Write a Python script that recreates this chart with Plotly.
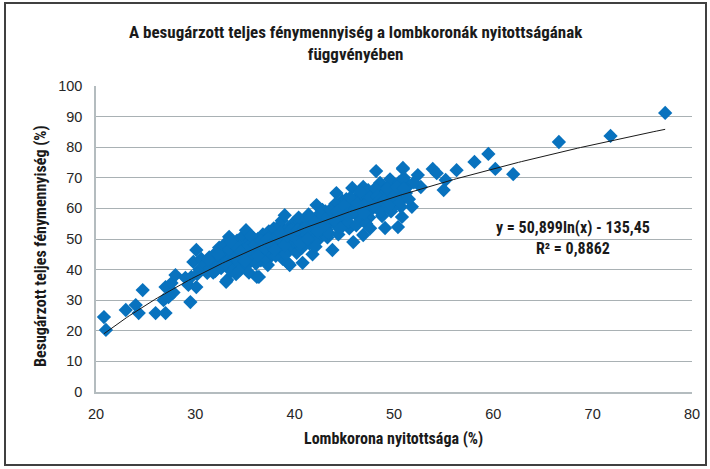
import numpy as np
import plotly.graph_objects as go

# ---- data ----
nyitottsag = [
    20.8, 21.0, 23.0, 24.0, 24.3, 24.7,
    26.0, 27.0, 26.8, 27.3, 27.0, 27.6, 28.0, 27.8,
    29.5, 29.0, 29.6, 29.3,
    30.1, 30.1, 29.8, 30.4, 30.6, 30.2,
    31.2, 31.4, 31.0, 31.7, 31.5, 31.9,
    32.2, 32.5, 32.0, 32.7, 32.4, 32.8, 32.9,
    33.2, 33.1, 33.4, 33.0, 33.5, 33.3, 33.7, 33.8, 33.6, 33.9,
    34.0, 34.2, 34.3, 34.5, 34.6, 34.4, 34.8, 34.9, 34.1, 34.7,
    35.1, 35.0, 35.3, 35.5, 35.2, 35.6, 35.8, 35.4, 35.9, 35.7,
    36.2, 36.4, 36.0, 36.3, 36.5, 36.6, 36.8, 36.9, 36.1, 36.7,
    37.0, 37.2, 37.4, 37.5, 37.6, 37.8, 37.3, 37.9, 37.1, 37.7,
    38.0, 38.2, 38.4, 38.5, 38.6, 38.8, 38.3, 38.9, 38.1, 38.7,
    39.0, 39.3, 39.5, 39.2, 39.4, 39.6, 39.8, 39.1, 39.7, 39.9,
    40.0, 40.3, 40.8, 40.5, 40.2, 40.6, 40.9, 40.4, 40.7, 40.1,
    41.0, 41.3, 41.5, 41.2, 41.7, 41.8, 41.4, 41.9, 41.6,
    42.2, 42.0, 42.3, 42.5, 42.7, 42.4, 42.8, 42.1, 42.9, 42.6,
    43.0, 43.3, 43.5, 43.2, 43.8, 43.6, 43.9, 43.4, 43.7, 43.1,
    44.2, 44.0, 44.3, 44.5, 44.7, 44.4, 44.8, 44.6, 44.9, 44.1,
    45.0, 45.3, 45.5, 45.8, 45.9, 45.2, 45.6, 45.4, 45.7, 45.1,
    46.0, 46.3, 46.5, 46.9, 46.9, 46.2, 46.6, 46.8, 46.4, 46.7,
    47.0, 47.3, 47.5, 47.7, 47.2, 47.8, 47.4, 47.9, 47.6,
    48.2, 48.0, 48.6, 48.3, 48.5, 48.8, 48.4, 48.9, 48.7, 48.1,
    49.1, 49.0, 49.3, 49.5, 49.7, 49.2, 49.8, 49.6, 49.4,
    50.4, 50.8, 50.9, 50.9, 50.0, 50.2, 50.5, 50.6, 50.3, 50.7,
    51.8, 51.2, 51.5, 52.4, 52.7, 51.0, 52.0,
    53.9, 54.3, 55.2, 55.0, 56.3, 58.1, 59.5, 60.2, 62.0, 66.6, 71.8, 77.3,
    31.3, 31.8, 32.3, 32.6, 33.0, 33.4, 33.6, 34.0, 34.3, 34.6,
    35.0, 35.4, 35.6, 36.0, 36.3, 36.6, 37.0, 37.3, 37.6, 38.0,
    38.3, 38.6, 39.0, 39.3, 39.6, 40.0, 40.3, 40.6, 41.0, 41.3,
    41.6, 42.0, 42.3, 42.6, 43.0, 43.3, 43.6, 44.0, 44.3, 44.6,
    45.0, 45.3, 45.6, 46.0, 46.3, 46.6, 47.0, 47.3, 47.6, 48.0,
    48.3, 48.6, 49.0, 49.3, 49.6, 50.0, 50.3, 50.6, 51.0, 51.5,
]
fenymennyiseg = [
    24.5, 20.3, 26.8, 28.4, 25.8, 33.3,
    25.8, 25.8, 30.0, 31.0, 34.3, 35.6, 38.2, 32.5,
    29.4, 37.3, 37.6, 35.0,
    34.3, 46.4, 42.5, 40.0, 43.5, 38.5,
    38.9, 44.0, 41.8, 42.5, 40.5, 45.0,
    41.0, 43.8, 39.5, 46.0, 47.2, 42.0, 44.5,
    36.6, 36.0, 50.7, 48.5, 45.5, 43.0, 41.0, 47.8, 39.5, 44.0,
    46.5, 49.5, 42.5, 40.0, 48.0, 44.8, 51.0, 46.0, 38.5, 43.5,
    52.9, 47.0, 44.5, 49.5, 41.5, 46.8, 50.5, 39.0, 43.8, 48.5,
    37.6, 37.6, 45.5, 50.0, 47.5, 43.0, 51.5, 48.8, 42.0, 45.8,
    49.5, 46.0, 52.5, 44.0, 50.5, 47.8, 41.5, 53.5, 43.8, 45.0,
    48.5, 51.0, 45.5, 54.5, 49.8, 43.5, 47.0, 52.5, 44.5, 56.0,
    57.8, 42.2, 41.5, 50.0, 53.5, 47.5, 55.0, 45.0, 51.5, 49.0,
    52.0, 48.0, 42.2, 55.5, 45.5, 50.5, 53.8, 57.0, 47.0, 49.5,
    51.0, 54.5, 48.5, 56.5, 52.5, 45.0, 58.0, 50.0, 55.0,
    61.1, 53.5, 49.5, 57.0, 51.5, 55.0, 59.5, 47.5, 54.0, 52.8,
    56.0, 50.5, 58.5, 53.0, 46.4, 55.5, 60.5, 52.0, 57.5, 59.0,
    65.0, 58.0, 54.0, 60.0, 56.5, 51.5, 62.5, 58.8, 55.0, 61.5,
    57.5, 60.5, 53.5, 66.7, 49.0, 63.0, 58.0, 55.5, 61.5, 59.5,
    62.0, 57.5, 64.5, 67.0, 51.3, 54.5, 60.0, 56.5, 62.8, 58.8,
    61.0, 64.0, 57.0, 59.5, 55.0, 62.5, 66.0, 60.5, 53.5,
    72.2, 63.5, 68.3, 60.0, 65.5, 57.5, 62.0, 61.5, 59.0, 66.5,
    53.6, 64.0, 62.0, 67.5, 59.0, 65.5, 63.0, 69.5, 60.5,
    53.9, 57.2, 72.9, 73.2, 66.0, 61.5, 68.5, 63.5, 64.8, 60.5,
    60.5, 65.0, 67.5, 70.9, 67.0, 70.0, 68.5,
    72.9, 71.5, 69.3, 66.0, 72.5, 75.2, 77.8, 72.9, 71.2, 81.7, 83.7, 91.2,
    43.2, 39.0, 45.0, 40.5, 42.0, 46.5, 49.0, 44.0, 47.0, 45.8,
    42.8, 47.8, 51.0, 48.0, 44.5, 49.5, 47.0, 50.0, 48.0, 46.5,
    50.5, 52.0, 48.0, 51.0, 53.0, 50.5, 53.0, 48.5, 53.5, 50.0,
    57.0, 55.5, 52.5, 58.5, 54.5, 57.0, 59.5, 56.0, 59.0, 53.5,
    61.0, 58.0, 63.5, 59.0, 61.5, 65.5, 58.5, 62.0, 63.5, 61.0,
    64.0, 63.0, 62.5, 66.5, 61.5, 64.0, 67.0, 62.0, 66.5, 63.0,
]

# logarithmic trendline as printed on the chart
trend_a = 50.899
trend_b = -135.45
trend_r2 = "0,8862"

x_ticks = [20, 30, 40, 50, 60, 70, 80]
y_ticks = [0, 10, 20, 30, 40, 50, 60, 70, 80, 90, 100]

title_text = "A besugárzott teljes fénymennyiség a lombkoronák nyitottságának<br>függvényében"
x_title = "Lombkorona nyitottsága (%)"
y_title = "Besugárzott teljes fénymennyiség (%)"

# ---- figure ----
W, H = 710, 469
ML, MR, MT, MB = 96, 18, 86, 77
pw, ph = W - ML - MR, H - MT - MB

narrow = "Liberation Sans Narrow, Arial Narrow, Roboto Condensed, DejaVu Sans Condensed, sans-serif"
regular = "Liberation Sans, Arial, sans-serif"
dark = "#1a1a1a"

tx = np.linspace(min(nyitottsag), max(nyitottsag), 200)
ty = trend_a * np.log(tx) + trend_b

fig = go.Figure()
fig.add_trace(go.Scatter(
    x=nyitottsag, y=fenymennyiseg, mode="markers",
    marker=dict(symbol="diamond", size=11, color="#0872BE", line=dict(width=0)),
    hoverinfo="x+y", showlegend=False,
))
fig.add_trace(go.Scatter(
    x=tx, y=ty, mode="lines", line=dict(color=dark, width=1),
    hoverinfo="skip", showlegend=False,
))

def px_to_paper_x(p):
    return (p - ML) / pw

def px_to_paper_y(p):
    return (H - MB - p) / ph

bold16 = dict(family=narrow, size=16, color=dark, weight="bold")

fig.update_layout(
    width=W, height=H,
    margin=dict(l=ML, r=MR, t=MT, b=MB, autoexpand=False),
    paper_bgcolor="white", plot_bgcolor="white",
    xaxis=dict(range=[20, 80], tickvals=x_ticks, showgrid=False, zeroline=False,
               showline=True, linecolor="#b4bcbf", linewidth=1.5, ticks="",
               automargin=False, ticklabelstandoff=8,
               tickfont=dict(family=regular, size=14.5, color="#262626")),
    yaxis=dict(range=[0, 100], tickvals=y_ticks, showgrid=True, gridcolor="#a9b1b4", gridwidth=1,
               zeroline=False, showline=True, linecolor="#b4bcbf", linewidth=1.5, ticks="",
               ticklabelstandoff=9, automargin=False,
               tickfont=dict(family=regular, size=14.5, color="#262626")),
    annotations=[
        dict(text=title_text, xref="paper", yref="paper",
             x=px_to_paper_x(356), y=px_to_paper_y(43),
             xanchor="center", yanchor="middle", showarrow=False, align="center",
             font=dict(family=narrow, size=17, color=dark, weight="bold")),
        dict(text=x_title, xref="paper", yref="paper",
             x=px_to_paper_x(393), y=px_to_paper_y(438),
             xanchor="center", yanchor="middle", showarrow=False, font=bold16),
        dict(text=y_title, xref="paper", yref="paper", textangle=-90,
             x=px_to_paper_x(41), y=px_to_paper_y(246),
             xanchor="center", yanchor="middle", showarrow=False, font=bold16),
        dict(text=f"y = {str(trend_a).replace('.', ',')}ln(x) - {str(-trend_b).replace('.', ',')}<br>R² = {trend_r2}",
             xref="paper", yref="paper", x=px_to_paper_x(573), y=px_to_paper_y(238),
             xanchor="center", yanchor="middle", showarrow=False, align="center",
             font=bold16),
    ],
    shapes=[
        dict(type="rect", xref="paper", yref="paper",
             x0=px_to_paper_x(5), x1=px_to_paper_x(706),
             y0=px_to_paper_y(465), y1=px_to_paper_y(3),
             line=dict(color="#404040", width=2), fillcolor="rgba(0,0,0,0)", layer="below"),
    ],
)

fig.write_html(
    "out.html",
    config={"displayModeBar": False},
    post_script="document.body.style.margin='0';document.body.style.padding='0';document.body.style.overflow='hidden';",
)
